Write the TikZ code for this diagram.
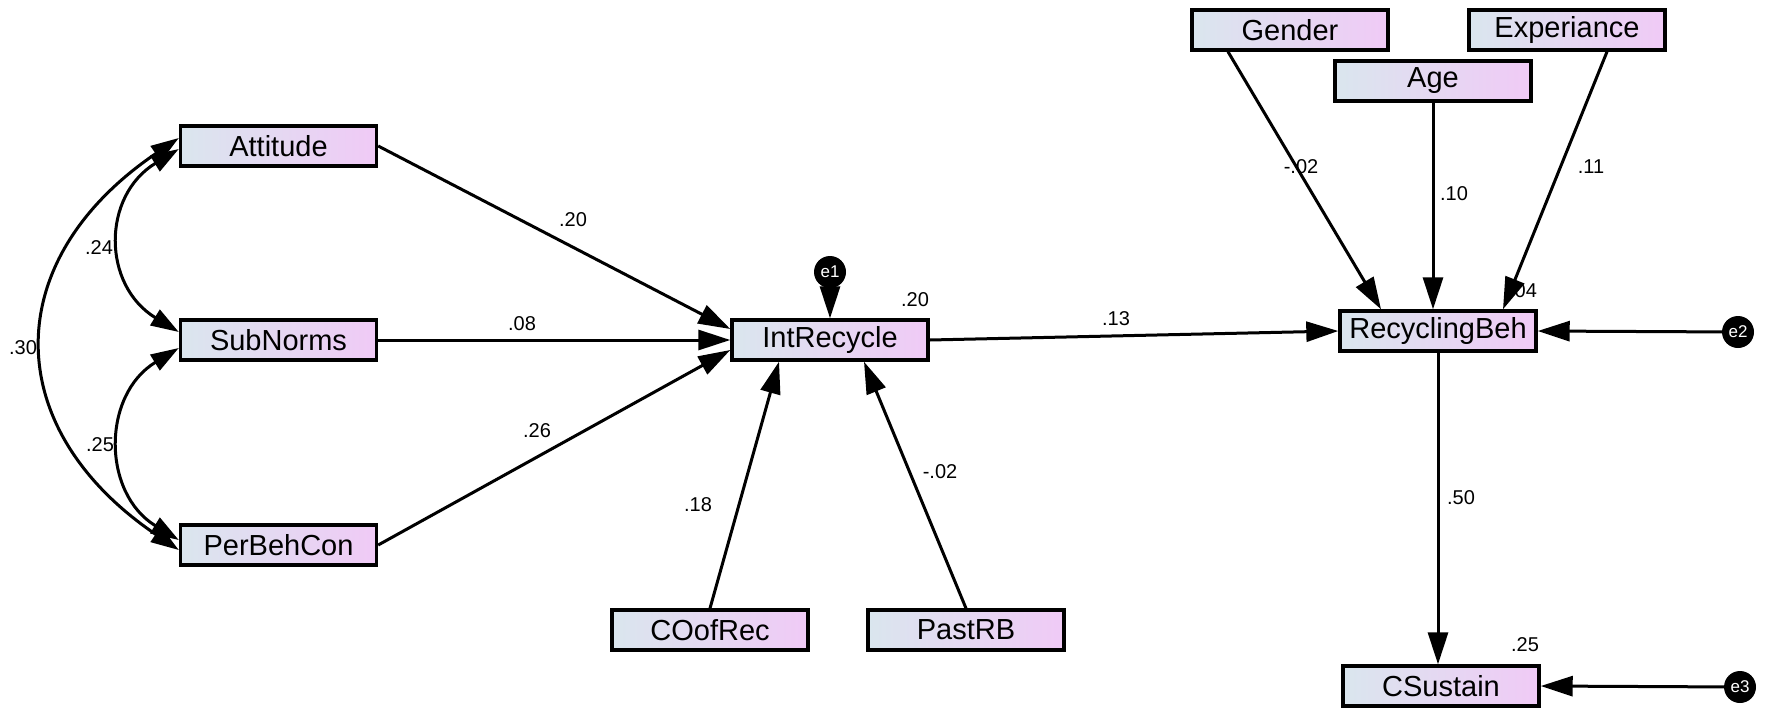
\documentclass[tikz,border=0pt]{standalone}
\usepackage{fontspec}
\setmainfont{Liberation Sans}
\usetikzlibrary{arrows.meta}
\definecolor{boxL}{RGB}{218,230,238}
\definecolor{boxR}{RGB}{240,202,246}
\begin{document}
\begin{tikzpicture}[x=1pt,y=-1pt,
  varbox/.style={draw=black, line width=3.4pt, left color=boxL, right color=boxR,
    minimum width=196pt, minimum height=40pt, inner sep=0pt,
    font=\fontsize{29}{30}\selectfont},
  errc/.style={circle, fill=black, minimum size=32pt, inner sep=0pt, text=white,
    font=\fontsize{17}{18}\selectfont},
  arr/.style={line width=3pt, -{Triangle[length=32pt,width=20pt]}},
  cov/.style={line width=3pt, {Triangle[length=28pt,width=18pt]}-{Triangle[length=28pt,width=18pt]}},
  lab/.style={font=\fontsize{20}{22}\selectfont, inner sep=0pt}]
\useasboundingbox (0,0) rectangle (1772,721);
% variables
\node[varbox] (Attitude) at (278.5,146) {Attitude};
\node[varbox] (SubNorms) at (278.5,340) {SubNorms};
\node[varbox] (PerBehCon) at (278.5,545) {PerBehCon};
\node[varbox] (IntRecycle) at (830,340) {IntRecycle};
\node[varbox] (COofRec) at (710,630) {COofRec};
\node[varbox] (PastRB) at (966,630) {PastRB};
\node[varbox] (RecyclingBeh) at (1438,331) {RecyclingBeh};
\node[varbox] (CSustain) at (1441,686) {CSustain};
\node[varbox] (Gender) at (1290,30) {Gender};
\node[varbox] (Age) at (1433,81) {Age};
\node[varbox] (Experiance) at (1567,30) {Experiance};
% errors
\node[errc] (e1) at (830,272) {e1};
\node[errc] (e2) at (1738,332) {e2};
\node[errc] (e3) at (1740,687) {e3};
% paths
\draw[arr] (Attitude.east) -- ([yshift=11pt]IntRecycle.west);
\draw[arr] (SubNorms.east) -- (IntRecycle.west);
\draw[arr] (PerBehCon.east) -- ([yshift=-10pt]IntRecycle.west);
\draw[arr] (COofRec.north) -- ([xshift=-51pt]IntRecycle.south);
\draw[arr] (PastRB.north) -- ([xshift=34pt]IntRecycle.south);
\draw[arr] (e1) -- (IntRecycle.north);
\draw[arr] (IntRecycle.east) -- (RecyclingBeh.west);
\draw[arr] ([xshift=-62pt]Gender.south) -- ([xshift=-57pt]RecyclingBeh.north);
\draw[arr] (Age.south) -- (Age.south |- RecyclingBeh.north);
\draw[arr] ([xshift=40pt]Experiance.south) -- ([xshift=65pt]RecyclingBeh.north);
\draw[arr] (e2) -- (RecyclingBeh.east);
\draw[arr] (RecyclingBeh.south) -- (RecyclingBeh.south |- CSustain.north);
\draw[arr] (e3) -- (CSustain.east);
% covariances
\draw[cov] ([yshift=8pt]Attitude.west) .. controls +(-180,122) and +(-180,-122) .. ([yshift=-5pt]PerBehCon.west);
\draw[cov] ([yshift=-3pt]Attitude.west) .. controls +(-77,47) and +(-77,-47) .. ([yshift=8pt]SubNorms.west);
\draw[cov] ([yshift=-8pt]SubNorms.west) .. controls +(-77,47) and +(-77,-47) .. ([yshift=5pt]PerBehCon.west);
% labels
\node[lab] (l1) at (573,220) {.20};
\node[lab] (l2) at (522,324) {.08};
\node[lab] (l3) at (537,431) {.26};
\node[lab] (l4) at (915,300) {.20};
\node[lab] (l5) at (698,505) {.18};
\node[lab] (l6) at (940,472) {-.02};
\node[lab] (l7) at (1116,319) {.13};
\node[lab] (l8) at (1301,167) {-.02};
\node[lab] (l9) at (1454,194) {.10};
\node[lab] (l10) at (1591,167) {.11};
\node[lab] (l11) at (1523,291) {.04};
\node[lab] (l12) at (1461,498) {.50};
\node[lab] (l13) at (1525,645) {.25};
\node[lab] (l14) at (99,248) {.24};
\node[lab] (l15) at (23,348) {.30};
\node[lab] (l16) at (100,445) {.25};
\end{tikzpicture}
\end{document}
